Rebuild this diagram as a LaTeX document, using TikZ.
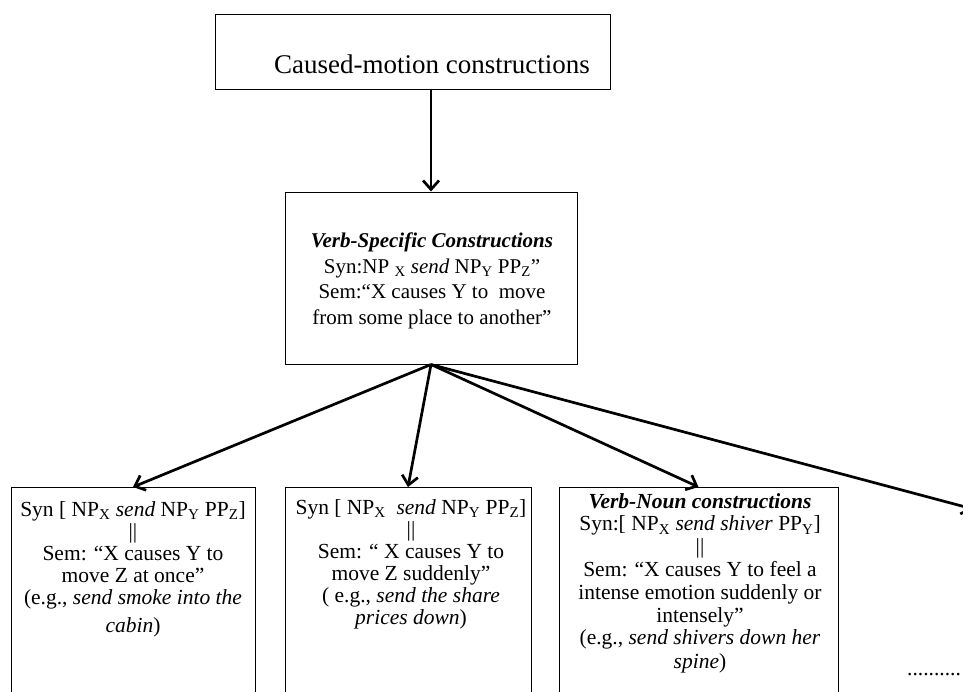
\documentclass[tikz,border=0pt]{standalone}
\usepackage{fontspec}
\setmainfont{Liberation Serif}
\usetikzlibrary{arrows.meta}

\begin{document}
\begin{tikzpicture}[x=1pt,y=-1pt,
  box/.style={draw, line width=1pt, inner sep=0pt},
  conn/.style={line width=2.7pt, -{Straight Barb[length=9pt,width=16pt]}},
  txt/.style={inner sep=0pt, align=center, anchor=north,
    font=\fontsize{21.5}{22}\selectfont},
]
\useasboundingbox (0,0) rectangle (963,691);
\begin{scope}
\clip (0,0) rectangle (963,691);

% top level
\node[box, minimum width=395pt, minimum height=75pt] (top) at (412.5,51.5) {};
\node[inner sep=0pt, anchor=base, font=\fontsize{27}{27}\selectfont] (toptext)
  at (432,73) {Caused-motion constructions};

% verb-specific level
\node[box, minimum width=292pt, minimum height=172pt] (mid) at (431,278) {};
\node[txt, font=\fontsize{21}{25.5}\selectfont] (midtext) at (432,233)
  {\textbf{\textit{Verb-Specific Constructions}}\\
   Syn:NP \textsubscript{X} \textit{send} NP\textsubscript{Y} PP\textsubscript{Z}”\\
   Sem:“X causes Y to\ \ move\\
   from some place to another”};

% individual constructions
\node[box, minimum width=244pt, minimum height=240pt, anchor=north] (b1) at (133,487) {};
\node[box, minimum width=246pt, minimum height=240pt, anchor=north] (b2) at (408,487) {};
\node[box, minimum width=279pt, minimum height=240pt, anchor=north] (b3) at (698.5,487) {};

\node[txt] (t1) at (133,501)
  {Syn [ NP\textsubscript{X} \textit{send} NP\textsubscript{Y} PP\textsubscript{Z}]\\
   ||\\
   Sem: “X causes Y to\\
   move Z at once”\\
   (e.g., \textit{send smoke into the}\\[6pt]
   \textit{cabin})};

\node[txt] (t2) at (411,499)
  {Syn [ NP\textsubscript{X}\ \ \textit{send} NP\textsubscript{Y} PP\textsubscript{Z}]\\
   ||\\
   Sem: “ X causes Y to\\
   move Z suddenly”\\
   ( e.g., \textit{send the share}\\
   \textit{prices down})};

\node[txt, font=\fontsize{21.5}{22.8}\selectfont] (t3) at (700,493)
  {\textbf{\textit{Verb-Noun constructions}}\\
   Syn:[ NP\textsubscript{X} \textit{send shiver} PP\textsubscript{Y}]\\
   ||\\
   Sem: “X causes Y to feel a\\
   intense emotion suddenly or\\
   intensely”\\
   (e.g., \textit{send shivers down her}\\[1pt]
   \textit{spine})};

\node[inner sep=0pt, anchor=base west, font=\fontsize{21.5}{21.5}\selectfont]
  (dots) at (907,675) {..........};

% connectors
\coordinate (off) at (973,509);
\draw[conn] (top.south -| mid.north) -- (mid.north);
\draw[conn] (mid.south) -- (b1.north);
\draw[conn] (mid.south) -- (b2.north);
\draw[conn] (mid.south) -- (b3.north);
\draw[conn] (mid.south) -- (off);
\end{scope}
\end{tikzpicture}
\end{document}
